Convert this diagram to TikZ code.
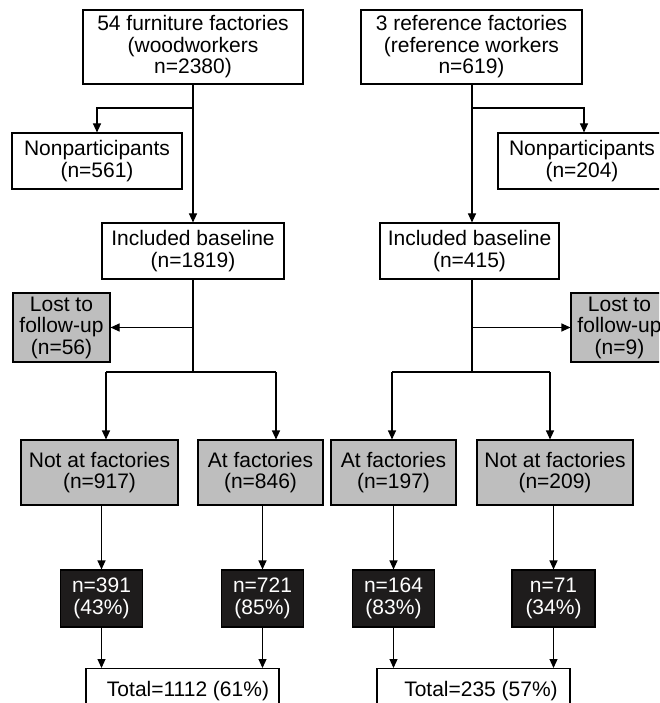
\documentclass[tikz,border=0pt]{standalone}
\usepackage{fontspec}
\setmainfont{Liberation Sans}
\usetikzlibrary{arrows.meta,calc}
\definecolor{boxgray}{RGB}{190,190,190}
\definecolor{boxblack}{RGB}{30,28,28}
\tikzset{
  base/.style={draw=black, line width=1.1pt, rectangle, inner sep=0pt, align=center,
    font=\fontsize{21}{21.5}\selectfont},
  whitebox/.style={base, fill=white},
  graybox/.style={base, fill=boxgray},
  blackbox/.style={base, fill=boxblack, text=white},
  arr/.style={line width=1.1pt, -{Triangle[length=9pt,width=8pt]}},
  ln/.style={line width=1.1pt}
}
\begin{document}
\begin{tikzpicture}[x=1pt,y=-1pt]
\useasboundingbox (0,0) rectangle (659,703);
\clip (0,0) rectangle (659,703);
\fill[white] (0,0) rectangle (659,703);
% ---------- left ----------
\node[whitebox, minimum width=220pt, minimum height=74pt] (top1) at (193,47) {54 furniture factories\\(woodworkers\\n=2380)};
\node[whitebox, minimum width=170pt, minimum height=56pt] (np1) at (97,161) {Nonparticipants\\(n=561)};
\node[whitebox, minimum width=182pt, minimum height=56pt] (inc1) at (193,251) {Included baseline\\(n=1819)};
\node[graybox, minimum width=97pt, minimum height=69pt] (lost1) at (61.5,327.5) {Lost to\\follow-up\\(n=56)};
\node[graybox, minimum width=157pt, minimum height=65pt] (naf1) at (99.5,472.5) {Not at factories\\(n=917)};
\node[graybox, minimum width=125pt, minimum height=65pt] (af1) at (260.5,472.5) {At factories\\(n=846)};
\node[blackbox, minimum width=82pt, minimum height=57pt] (b1) at (101.5,598.5) {n=391\\(43\%)};
\node[blackbox, minimum width=82pt, minimum height=57pt] (b2) at (262.5,598.5) {n=721\\(85\%)};
\node[whitebox, minimum width=193pt, text height=16pt, text depth=5pt, inner ysep=12pt, anchor=north] (tot1) at (182.5,668) {\hspace*{11pt}Total=1112 (61\%)};
\coordinate (j1) at (193,108);
\coordinate (j2) at (193,372);
\coordinate (a1) at (106,372);
\coordinate (a2) at (276,372);
\draw[arr] (top1.south) -- (inc1.north);
\draw[arr] (j1) -| (np1.north);
\draw[ln] (inc1.south) -- (j2);
\draw[arr] (inc1.south |- lost1.east) -- (lost1.east);
\draw[ln] (a1) -- (a2);
\draw[arr] (a1) -- (a1 |- naf1.north);
\draw[arr] (a2) -- (a2 |- af1.north);
\draw[arr] (b1.north |- naf1.south) -- (b1.north);
\draw[arr] (b2.north |- af1.south) -- (b2.north);
\draw[arr] (b1.south) -- (b1.south |- tot1.north);
\draw[arr] (b2.south) -- (b2.south |- tot1.north);
% ---------- right ----------
\node[whitebox, minimum width=221pt, minimum height=74pt] (top2) at (471.5,47) {3 reference factories\\(reference workers\\n=619)};
\node[whitebox, minimum width=168pt, minimum height=56pt] (np2) at (582,161) {Nonparticipants\\(n=204)};
\node[whitebox, minimum width=179pt, minimum height=56pt] (inc2) at (469.5,251) {Included baseline\\(n=415)};
\node[graybox, minimum width=97pt, minimum height=69pt] (lost2) at (619.5,327.5) {Lost to\\follow-up\\(n=9)};
\node[graybox, minimum width=125pt, minimum height=65pt] (af2) at (393.5,472.5) {At factories\\(n=197)};
\node[graybox, minimum width=156pt, minimum height=65pt] (naf2) at (555,472.5) {Not at factories\\(n=209)};
\node[blackbox, minimum width=82pt, minimum height=57pt] (b3) at (393.5,598.5) {n=164\\(83\%)};
\node[blackbox, minimum width=83pt, minimum height=57pt] (b4) at (553.5,598.5) {n=71\\(34\%)};
\node[whitebox, minimum width=193pt, text height=16pt, text depth=5pt, inner ysep=12pt, anchor=north] (tot2) at (473.5,668) {\hspace*{15pt}Total=235 (57\%)};
\coordinate (m2) at (472,84);
\coordinate (j3) at (472,108);
\coordinate (k3) at (584,108);
\coordinate (j4) at (472,372);
\coordinate (a3) at (392,372);
\coordinate (a4) at (550,372);
\draw[arr] (m2) -- (m2 |- inc2.north);
\draw[arr] (j3) -- (k3) -- (k3 |- np2.north);
\draw[ln] (m2 |- inc2.south) -- (j4);
\draw[arr] (m2 |- lost2.west) -- (lost2.west);
\draw[ln] (a3) -- (a4);
\draw[arr] (a3) -- (a3 |- af2.north);
\draw[arr] (a4) -- (a4 |- naf2.north);
\draw[arr] (b3.north |- af2.south) -- (b3.north);
\draw[arr] (b4.north |- naf2.south) -- (b4.north);
\draw[arr] (b3.south) -- (b3.south |- tot2.north);
\draw[arr] (b4.south) -- (b4.south |- tot2.north);
\end{tikzpicture}
\end{document}
